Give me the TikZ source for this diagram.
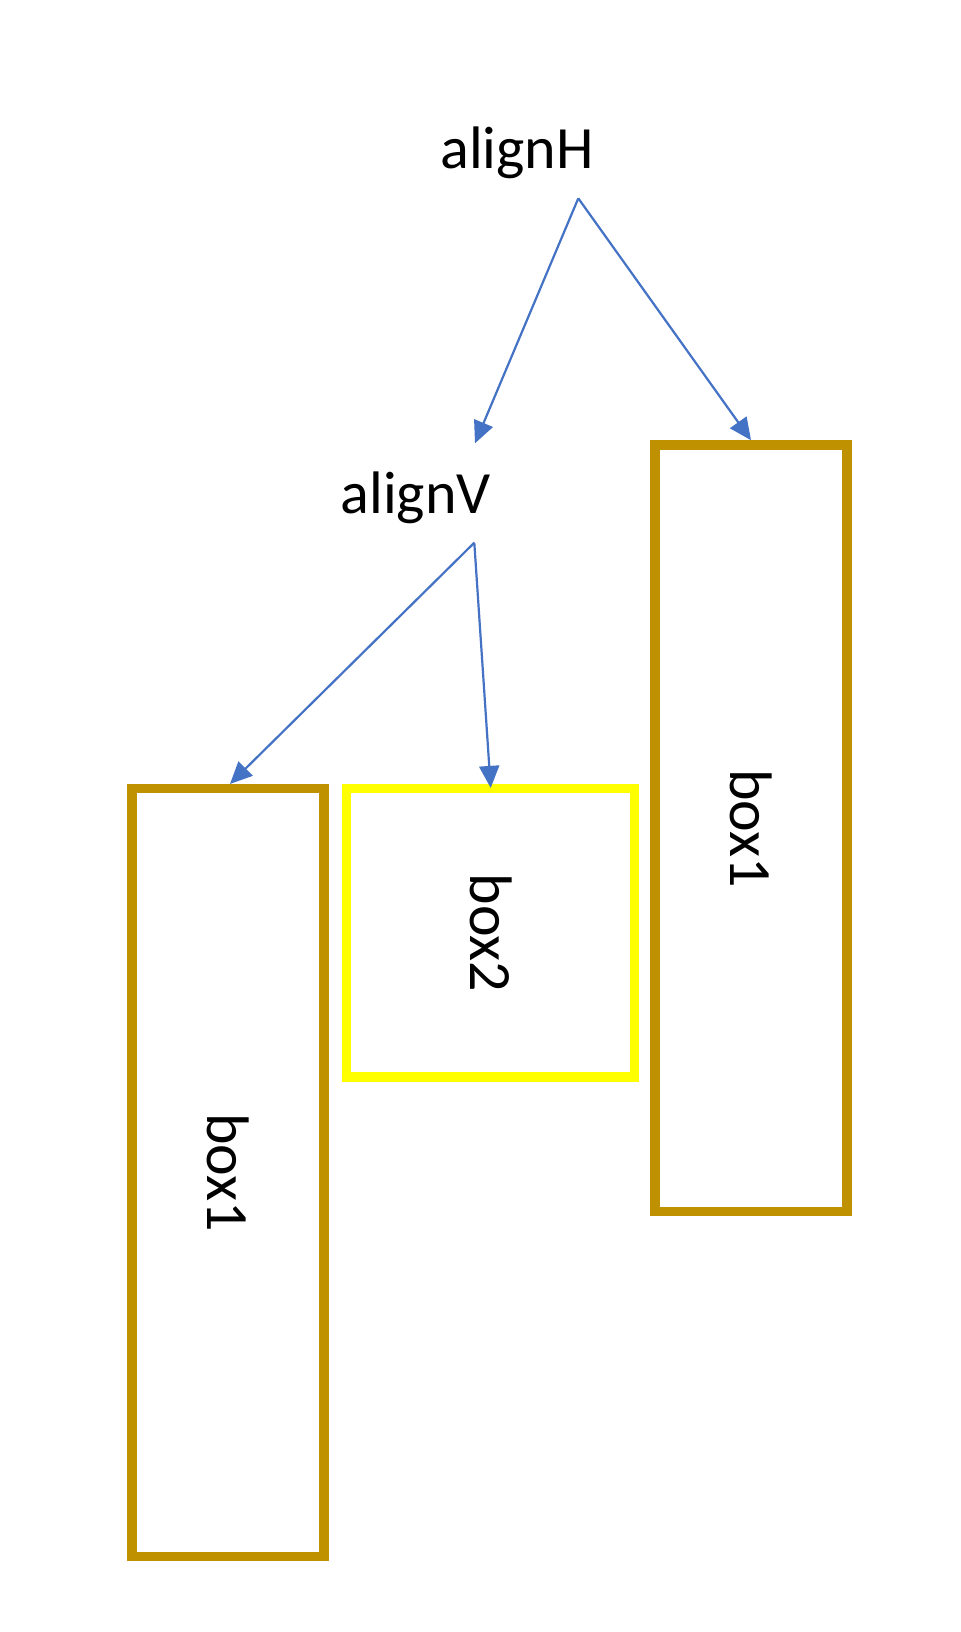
\documentclass[tikz,border=0pt]{standalone}
\usepackage{fontspec}
\setmainfont{Carlito}
\usetikzlibrary{arrows.meta}
\definecolor{gold}{HTML}{BF9000}
\definecolor{brightyellow}{HTML}{FFFF00}
\definecolor{arrowblue}{HTML}{4472C4}
\newcommand{\boxtext}[1]{\rotatebox{-90}{\fontsize{30}{36}\selectfont #1}}
\begin{document}
\begin{tikzpicture}[x=0.5pt,y=-0.5pt,
 lbl/.style={anchor=base, font=\fontsize{30}{36}\selectfont, inner sep=0pt},
 bx/.style={draw, line width=4.75pt, inner sep=0pt},
 conn/.style={draw=arrowblue, line width=1.1pt, -{Triangle[length=11pt,width=10pt]}}]
\useasboundingbox (0,0) rectangle (960,1632);
\node[lbl] (alignH) at (517,169) {alignH};
\node[lbl] (alignV) at (415.7,513.3) {alignV};
\node[bx, draw=gold, minimum width=95.85pt, minimum height=383.8pt] (box1l) at (228,1172.5) {\boxtext{box1}};
\node[bx, draw=brightyellow, minimum width=144pt, minimum height=144.15pt] (box2) at (490.7,932.8) {\boxtext{box2}};
\node[bx, draw=gold, minimum width=96pt, minimum height=383.35pt] (box1r) at (751,828.3) {\boxtext{box1}};
\coordinate (hout) at (578.3,198.3);
\coordinate (hvin) at (475,443.3);
\coordinate (vout) at (474.3,542.7);
\draw[conn] (hout) -- (hvin);
\draw[conn] (hout) -- (box1r.north);
\draw[conn] (vout) -- ([xshift=1pt]box1l.north);
\draw[conn] (vout) -- ([yshift=-2pt]box2.north);
\end{tikzpicture}
\end{document}
